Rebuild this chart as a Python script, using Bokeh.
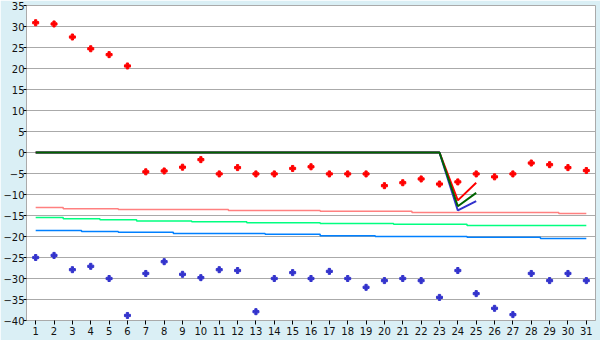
import numpy as np
from bokeh.plotting import figure
from bokeh.models import Range1d, FixedTicker
from bokeh.embed import file_html
from bokeh.resources import INLINE

days = list(range(1, 32))
y_ticks = list(range(-40, 36, 5))

red_pts = [30.9, 30.6, 27.5, 24.7, 23.3, 20.6, -4.6, -4.4, -3.5, -1.7,
           -5.1, -3.6, -5.1, -5.1, -3.8, -3.4, -5.1, -5.1, -5.1, -7.9,
           -7.2, -6.3, -7.5, -7.0, -5.1, -5.8, -5.1, -2.5, -2.9, -3.6, -4.3]
blue_pts = [-25.0, -24.5, -27.9, -27.1, -30.0, -38.8, -28.8, -26.0, -29.0, -29.8,
            -27.9, -28.1, -37.9, -30.0, -28.6, -30.0, -28.3, -30.0, -32.1, -30.5,
            -30.0, -30.5, -34.5, -28.1, -33.6, -37.1, -38.6, -28.8, -30.5, -28.8, -30.5]

salmon_step = [-13.1, -13.1, -13.4, -13.4, -13.4, -13.6, -13.6, -13.6, -13.6, -13.6,
               -13.6, -13.8, -13.8, -13.8, -13.8, -13.8, -14.0, -14.0, -14.0, -14.0,
               -14.0, -14.3, -14.3, -14.3, -14.3, -14.3, -14.3, -14.3, -14.3, -14.5, -14.5]
green_step = [-15.5, -15.5, -15.8, -15.8, -16.0, -16.0, -16.3, -16.3, -16.3, -16.5,
              -16.5, -16.5, -16.7, -16.7, -16.7, -16.7, -16.9, -16.9, -16.9, -16.9,
              -17.1, -17.1, -17.1, -17.1, -17.4, -17.4, -17.4, -17.4, -17.4, -17.4, -17.4]
blue_step = [-18.6, -18.6, -18.6, -18.8, -18.8, -19.0, -19.0, -19.0, -19.3, -19.3,
             -19.3, -19.3, -19.3, -19.45, -19.45, -19.45, -19.8, -19.8, -19.8, -20.0,
             -20.0, -20.0, -20.0, -20.0, -20.2, -20.2, -20.2, -20.2, -20.5, -20.5, -20.5]

zero_run = [0.0] * 23
red_line = zero_run + [-11.4, -7.2] + [None] * 6
green_line = zero_run + [-12.8, -9.6] + [None] * 6
blue_line = zero_run + [-13.8, -11.6] + [None] * 6


def arr(v):
    return np.array([np.nan if a is None else a for a in v], dtype=float)


BG = "#DAEFF5"
p = figure(width=600, height=340, output_backend="svg", toolbar_location=None,
           x_range=Range1d(0.5, 31.5), y_range=Range1d(-40, 35),
           min_border_left=0, min_border_right=5, min_border_top=5,
           min_border_bottom=20, border_fill_color=BG,
           background_fill_color="white", outline_line_color="#AAAAAA")

p.xaxis.ticker = FixedTicker(ticks=days)
p.yaxis.ticker = FixedTicker(ticks=y_ticks)
for ax in (p.xaxis[0], p.yaxis[0]):
    ax.axis_line_color = "#AAAAAA"
    ax.major_tick_line_color = "black"
    ax.major_tick_in = 0
    ax.minor_tick_line_color = None
    ax.major_label_text_font = "DejaVu Sans"
    ax.major_label_text_font_size = "10px"
    ax.major_label_text_color = "#111111"
p.xaxis.major_tick_out = 4
p.xaxis.major_label_standoff = 2
p.yaxis.major_tick_out = 3
p.yaxis.major_label_standoff = -1
p.xgrid.grid_line_color = None
p.ygrid.grid_line_color = "#AAAAAA"
p.ygrid.ticker = FixedTicker(ticks=y_ticks)

p.step(days, salmon_step, mode="center", line_color="#FF8080", line_width=1.5)
p.step(days, green_step, mode="center", line_color="#00FF80", line_width=1.5)
p.step(days, blue_step, mode="center", line_color="#0080FF", line_width=1.5)

p.line(days, arr(red_line), line_color="#FF0000", line_width=2)
p.line(days, arr(blue_line), line_color="#3333CC", line_width=2)
p.line(days, arr(green_line), line_color="#006400", line_width=2)

p.scatter(days, red_pts, marker="plus", size=6, color="#FF0000")
p.scatter(days, blue_pts, marker="plus", size=6, color="#3333CC")

open("out.html", "w").write(file_html(p, INLINE))
